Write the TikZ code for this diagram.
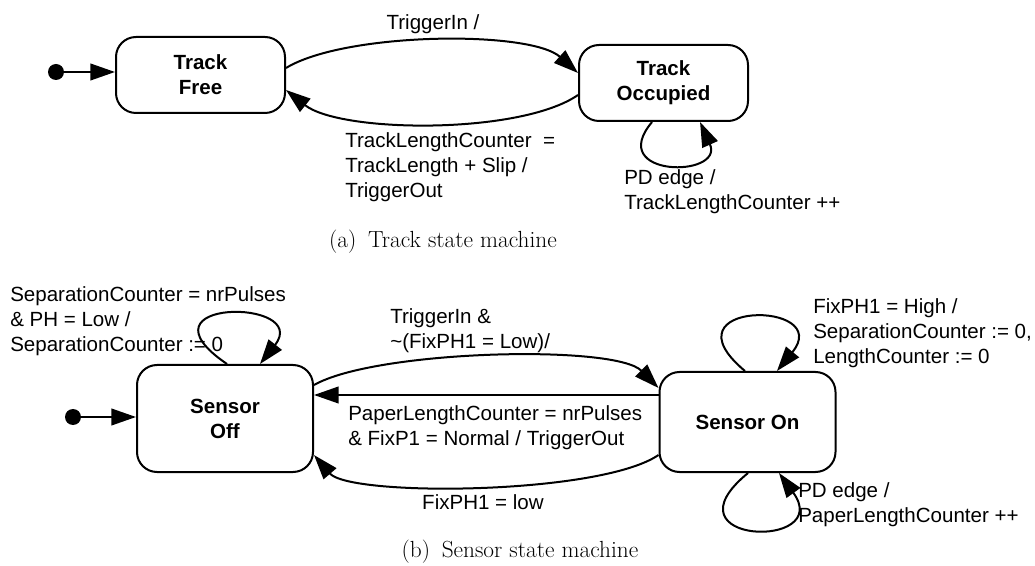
\documentclass[tikz,border=0pt]{standalone}
\usepackage{fontspec}
\newfontfamily\diagfont{Liberation Sans}
\usetikzlibrary{arrows.meta}
\newcommand\lblsize{\fontsize{15.4}{18.75}\selectfont}

\tikzset{
  statebox/.style={draw, line width=1.5pt, rounded corners=15pt, align=center,
    font=\diagfont\lblsize\bfseries, inner sep=0pt},
  initdot/.style={circle, fill, inner sep=0pt, minimum size=12pt},
  trans/.style={line width=1.5pt, -{Triangle[length=18.5pt,width=12.5pt]}},
  lbl/.style={font=\diagfont\lblsize, align=left, inner sep=0pt, anchor=north west},
  clbl/.style={font=\diagfont\lblsize, align=center, inner sep=0pt, anchor=north},
  figcap/.style={font=\fontsize{17.5}{20}\selectfont, inner sep=0pt, anchor=base},
}

\begin{document}
\begin{tikzpicture}[x=0.75pt, y=-0.75pt]
\useasboundingbox (0,0) rectangle (1035,566);

% ---------- (a) track state machine ----------
\node[statebox, minimum width=126.75pt, minimum height=57pt] (free) at (200.5,75) {Track\\Free};
\node[statebox, minimum width=126.75pt, minimum height=57pt] (occ) at (663.5,83) {Track\\Occupied};
\node[initdot] (inita) at (56,72) {};

\draw[trans] (inita) -- (inita -| free.west);
\draw[trans] ([yshift=5.25pt]free.east) .. controls (345,32) and (530,30) .. ([yshift=7.5pt]occ.west);
\draw[trans] ([yshift=-9pt]occ.west) .. controls (520,135) and (340,133) .. ([yshift=-11.25pt]free.east);
\draw[trans] ([xshift=-8.6pt]occ.south) .. controls (605,178) and (725,178) .. ([xshift=27.4pt]occ.south);

\node[clbl] (tin) at (433,11.5) {\strut TriggerIn /};
\node[lbl] (tlc) at (345,129.5) {\strut TrackLengthCounter\ \ =\\TrackLength + Slip /\\TriggerOut};
\node[lbl] (pda) at (624,166.5) {\strut PD edge /\\TrackLengthCounter ++};
\node[figcap] (capa) at (443,248) {(a)\hspace{0.5em}Track state machine};

% ---------- (b) sensor state machine ----------
\node[statebox, minimum width=132pt, minimum height=80.25pt] (off) at (225,418.5) {Sensor\\Off};
\node[statebox, minimum width=132pt, minimum height=75pt] (on) at (747.5,422) {Sensor On};
\node[initdot] (initb) at (73,417) {};
\coordinate (fbk) at (480,395);

\node[lbl] (sep) at (10,283.5) {\strut SeparationCounter = nrPulses\\\& PH = Low /\\SeparationCounter := 0};
\node[lbl] (trg) at (390,305.5) {\strut TriggerIn \&\\\textasciitilde(FixPH1 = Low)/};
\node[lbl] (plc) at (348,402.5) {\strut PaperLengthCounter = nrPulses\\\& FixP1 = Normal / TriggerOut};
\node[clbl] (low) at (483,491.5) {\strut FixPH1 = low};
\node[lbl] (high) at (813,295.5) {\strut FixPH1 = High /\\SeparationCounter := 0,\\LengthCounter := 0};
\node[lbl] (pdb) at (798,480) {\strut PD edge /\\PaperLengthCounter ++};
\node[figcap] (capb) at (520,557) {(b)\hspace{0.5em}Sensor state machine};

\draw[trans] (initb) -- (initb -| off.west);
\draw[trans] ([xshift=1.5pt]off.north) .. controls (130,298) and (312,298) .. ([xshift=26.25pt]off.north);
\draw[trans] ([yshift=25.1pt]off.east) .. controls (375,350) and (615,344) .. ([yshift=25.5pt]on.west);
\draw[trans] (on.west |- fbk) -- (off.east |- fbk);
\draw[trans] ([yshift=-24.75pt]on.west) .. controls (600,495) and (350,497) .. ([yshift=-27.4pt]off.east);
\draw[trans] ([xshift=-1.9pt]on.north) .. controls (660,300) and (835,300) .. ([xshift=22.1pt]on.north);
\draw[trans] ([xshift=0.4pt]on.south) .. controls (660,545) and (835,550) .. ([xshift=23.6pt]on.south);
\end{tikzpicture}
\end{document}
